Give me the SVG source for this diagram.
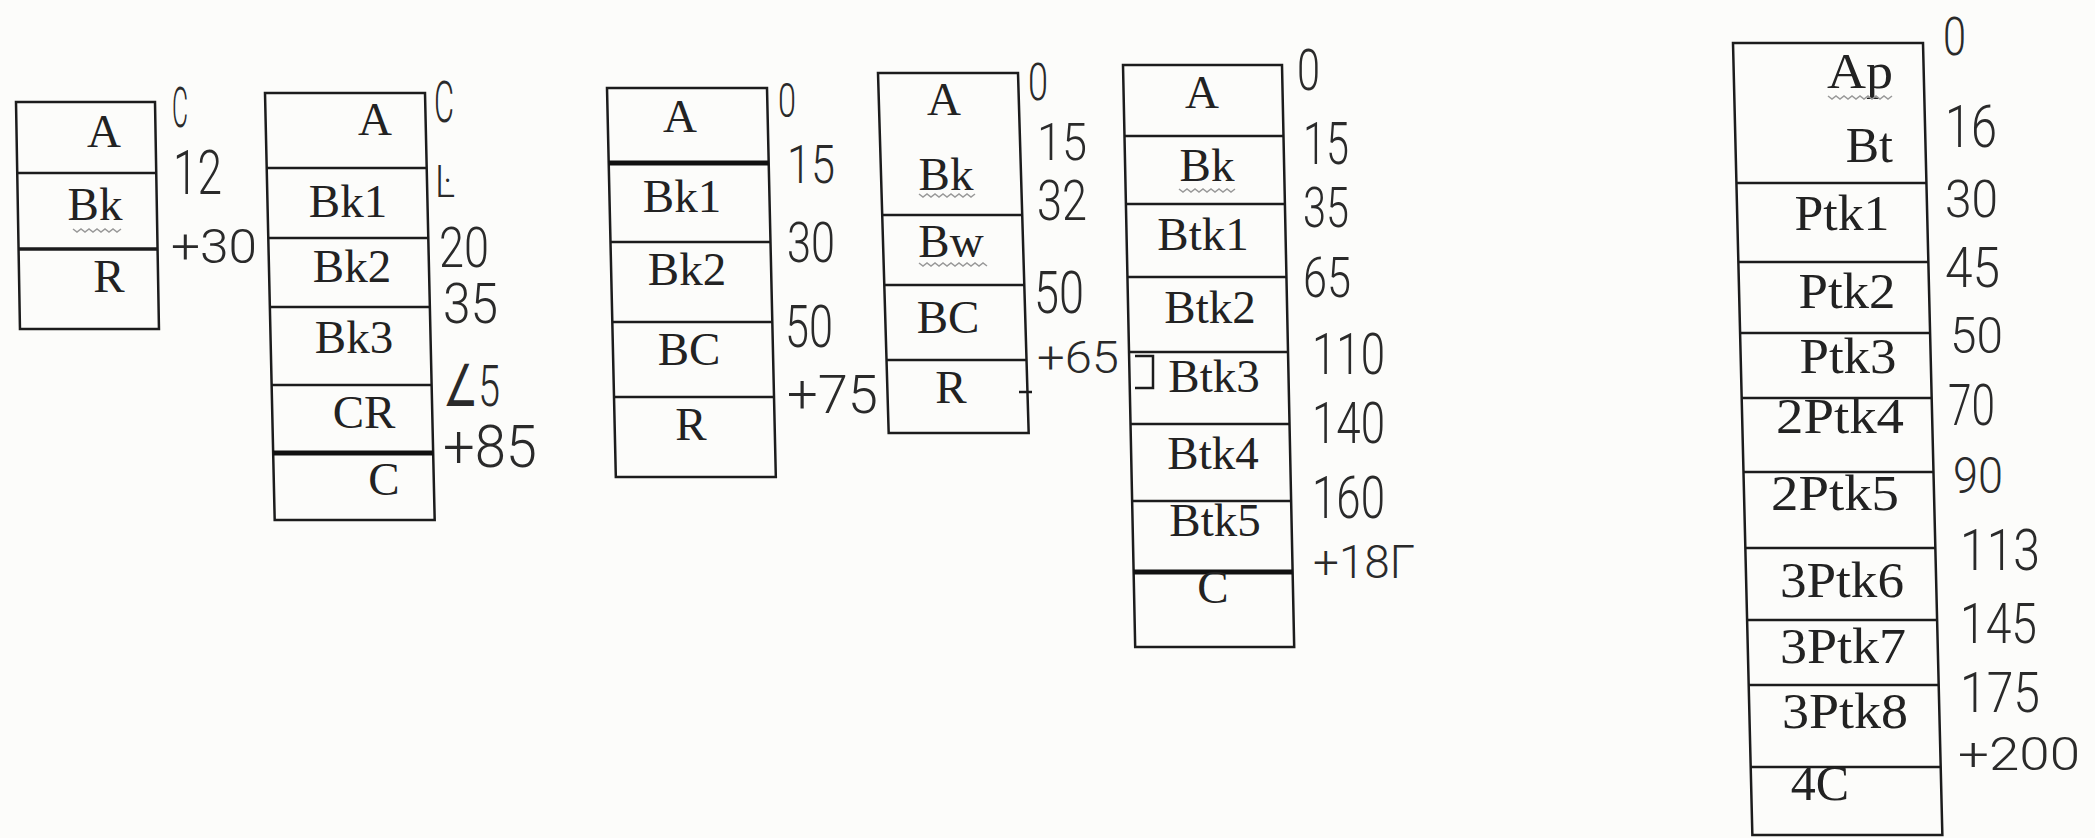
<svg xmlns="http://www.w3.org/2000/svg" width="2095" height="838" viewBox="0 0 2095 838">
<style>
.bg{fill:#fcfcfa}
.box{fill:none;stroke:#1c1c1c;stroke-width:2.5}
.div{stroke:#1c1c1c;stroke-width:2.5}
.thick{stroke:#111;stroke-width:5}
.lbl{font-family:"Liberation Serif",serif;font-size:47px;fill:#222;text-anchor:middle}
.lr{text-anchor:end}
.num{font-family:Roboto,"Liberation Sans",sans-serif;font-weight:300;font-size:52px;fill:#2a2a2a}
.wave{fill:none;stroke:#999;stroke-width:1.5}
</style>
<rect class="bg" width="2095" height="838"/>

<g id="stack1">
  <g transform="translate(16,102) skewX(1.0)">
    <rect class="box" width="139" height="227"/>
    <line class="div" x1="0" y1="71" x2="139" y2="71"/>
    <line class="div" x1="0" y1="147" x2="139" y2="147" style="stroke-width:3.5"/>
  </g>
  <text class="lbl" x="104" y="147">A</text>
  <text class="lbl" x="95" y="220">Bk</text>
  <path class="wave" d="M73,229 l4,3 l4,-3 l4,3 l4,-3 l4,3 l4,-3 l4,3 l4,-3 l4,3 l4,-3 l4,3 l4,-3"/>
  <text class="lbl" x="109" y="292">R</text>
  <text class="num" x="172" y="127" style="font-size:55px" textLength="16" lengthAdjust="spacingAndGlyphs">C</text>
  <text class="num" x="173" y="194" style="font-size:62px" textLength="49" lengthAdjust="spacingAndGlyphs">12</text>
  <text class="num" x="171" y="263" style="font-size:49px" textLength="86" lengthAdjust="spacingAndGlyphs">+30</text>
</g>

<g id="stack2">
  <g transform="translate(265,93) skewX(1.3)">
    <rect class="box" width="160" height="427"/>
    <line class="div" x1="0" y1="75" x2="160" y2="75"/>
    <line class="div" x1="0" y1="145" x2="160" y2="145"/>
    <line class="div" x1="0" y1="214" x2="160" y2="214"/>
    <line class="div" x1="0" y1="292" x2="160" y2="292"/>
    <line class="thick" x1="0" y1="360" x2="160" y2="360"/>
  </g>
  <text class="lbl" x="375" y="135">A</text>
  <text class="lbl" x="348" y="217">Bk1</text>
  <text class="lbl" x="352" y="282">Bk2</text>
  <text class="lbl" x="354" y="353">Bk3</text>
  <text class="lbl" x="364" y="428">CR</text>
  <text class="lbl" x="384" y="495">C</text>
  <text class="num" x="434" y="122" style="font-size:58px" textLength="20" lengthAdjust="spacingAndGlyphs">C</text>
  <text class="num" x="435" y="197" style="font-size:44px" textLength="20" lengthAdjust="spacingAndGlyphs">Ŀ</text>
  <text class="num" x="439" y="267" style="font-size:55px" textLength="50" lengthAdjust="spacingAndGlyphs">20</text>
  <text class="num" x="443" y="323" style="font-size:55px" textLength="55" lengthAdjust="spacingAndGlyphs">35</text>
  <text class="num" x="443" y="406" style="font-size:58px" textLength="57" lengthAdjust="spacingAndGlyphs">∠5</text>
  <text class="num" x="443" y="467" style="font-size:60px" textLength="94" lengthAdjust="spacingAndGlyphs">+85</text>
</g>

<g id="stack3">
  <g transform="translate(607,88) skewX(1.3)">
    <rect class="box" width="160" height="389"/>
    <line class="thick" x1="0" y1="75" x2="160" y2="75"/>
    <line class="div" x1="0" y1="154" x2="160" y2="154"/>
    <line class="div" x1="0" y1="234" x2="160" y2="234"/>
    <line class="div" x1="0" y1="309" x2="160" y2="309"/>
  </g>
  <text class="lbl" x="680" y="132">A</text>
  <text class="lbl" x="682" y="212">Bk1</text>
  <text class="lbl" x="687" y="285">Bk2</text>
  <text class="lbl" x="689" y="365">BC</text>
  <text class="lbl" x="691" y="440">R</text>
  <text class="num" x="778" y="117" style="font-size:48px" textLength="18" lengthAdjust="spacingAndGlyphs">0</text>
  <text class="num" x="787" y="183" style="font-size:53px" textLength="48" lengthAdjust="spacingAndGlyphs">15</text>
  <text class="num" x="787" y="262" style="font-size:56px" textLength="48" lengthAdjust="spacingAndGlyphs">30</text>
  <text class="num" x="785" y="347" style="font-size:60px" textLength="48" lengthAdjust="spacingAndGlyphs">50</text>
  <text class="num" x="787" y="413" style="font-size:53px" textLength="91" lengthAdjust="spacingAndGlyphs">+75</text>
</g>

<g id="stack4">
  <g transform="translate(878,73) skewX(1.7)">
    <rect class="box" width="140" height="360"/>
    <line class="div" x1="0" y1="142" x2="140" y2="142"/>
    <line class="div" x1="0" y1="212" x2="140" y2="212"/>
    <line class="div" x1="0" y1="287" x2="140" y2="287"/>
  </g>
  <line class="div" x1="1019" y1="392" x2="1032" y2="392"/>
  <text class="lbl" x="944" y="115">A</text>
  <text class="lbl" x="946" y="190">Bk</text>
  <path class="wave" d="M919,194 l4,3 l4,-3 l4,3 l4,-3 l4,3 l4,-3 l4,3 l4,-3 l4,3 l4,-3 l4,3 l4,-3 l4,3 l4,-3"/>
  <text class="lbl" x="951" y="257">Bw</text>
  <path class="wave" d="M919,263 l4,3 l4,-3 l4,3 l4,-3 l4,3 l4,-3 l4,3 l4,-3 l4,3 l4,-3 l4,3 l4,-3 l4,3 l4,-3 l4,3 l4,-3 l4,3"/>
  <text class="lbl" x="948" y="333">BC</text>
  <text class="lbl" x="951" y="403">R</text>
  <text class="num" x="1028" y="100" style="font-size:52px" textLength="20" lengthAdjust="spacingAndGlyphs">0</text>
  <text class="num" x="1037" y="160" style="font-size:52px" textLength="50" lengthAdjust="spacingAndGlyphs">15</text>
  <text class="num" x="1037" y="220" style="font-size:56px" textLength="50" lengthAdjust="spacingAndGlyphs">32</text>
  <text class="num" x="1034" y="313" style="font-size:60px" textLength="50" lengthAdjust="spacingAndGlyphs">50</text>
  <text class="num" x="1037" y="373" style="font-size:44px" textLength="82" lengthAdjust="spacingAndGlyphs">+65</text>
</g>

<g id="stack5">
  <g transform="translate(1123,65) skewX(1.2)">
    <rect class="box" width="159" height="582"/>
    <line class="div" x1="0" y1="71" x2="159" y2="71"/>
    <line class="div" x1="0" y1="139" x2="159" y2="139"/>
    <line class="div" x1="0" y1="212" x2="159" y2="212"/>
    <line class="div" x1="0" y1="287" x2="159" y2="287"/>
    <line class="div" x1="0" y1="359" x2="159" y2="359"/>
    <line class="div" x1="0" y1="436" x2="159" y2="436"/>
    <line class="thick" x1="0" y1="507" x2="159" y2="507"/>
  </g>
  <path class="div" fill="none" d="M1135,356 H1153 V388 H1135"/>
  <text class="lbl" x="1202" y="108">A</text>
  <text class="lbl" x="1207" y="181">Bk</text>
  <path class="wave" d="M1179,189 l4,3 l4,-3 l4,3 l4,-3 l4,3 l4,-3 l4,3 l4,-3 l4,3 l4,-3 l4,3 l4,-3 l4,3 l4,-3"/>
  <text class="lbl" x="1203" y="250">Btk1</text>
  <text class="lbl" x="1210" y="323">Btk2</text>
  <text class="lbl" x="1214" y="392">Btk3</text>
  <text class="lbl" x="1213" y="469">Btk4</text>
  <text class="lbl" x="1215" y="536">Btk5</text>
  <text class="lbl" x="1213" y="603">C</text>
  <text class="num" x="1297" y="90" style="font-size:58px" textLength="23" lengthAdjust="spacingAndGlyphs">0</text>
  <text class="num" x="1303" y="164" style="font-size:60px" textLength="46" lengthAdjust="spacingAndGlyphs">15</text>
  <text class="num" x="1303" y="227" style="font-size:56px" textLength="46" lengthAdjust="spacingAndGlyphs">35</text>
  <text class="num" x="1303" y="297" style="font-size:55px" textLength="48" lengthAdjust="spacingAndGlyphs">65</text>
  <text class="num" x="1312" y="374" style="font-size:57px" textLength="73" lengthAdjust="spacingAndGlyphs">110</text>
  <text class="num" x="1312" y="443" style="font-size:57px" textLength="73" lengthAdjust="spacingAndGlyphs">140</text>
  <text class="num" x="1312" y="518" style="font-size:59px" textLength="73" lengthAdjust="spacingAndGlyphs">160</text>
  <text class="num" x="1313" y="578" style="font-size:47px" textLength="102" lengthAdjust="spacingAndGlyphs">+18Γ</text>
</g>

<g id="stack6">
  <g transform="translate(1733,43) skewX(1.4)">
    <rect class="box" width="190" height="792"/>
    <line class="div" x1="0" y1="140" x2="190" y2="140"/>
    <line class="div" x1="0" y1="219" x2="190" y2="219"/>
    <line class="div" x1="0" y1="290" x2="190" y2="290"/>
    <line class="div" x1="0" y1="355" x2="190" y2="355"/>
    <line class="div" x1="0" y1="429" x2="190" y2="429"/>
    <line class="div" x1="0" y1="505" x2="190" y2="505"/>
    <line class="div" x1="0" y1="577" x2="190" y2="577"/>
    <line class="div" x1="0" y1="642" x2="190" y2="642"/>
    <line class="div" x1="0" y1="724" x2="190" y2="724"/>
  </g>
  <text class="lbl lr" x="1893" y="88" style="font-size:50px" textLength="66" lengthAdjust="spacingAndGlyphs">Ap</text>
  <path class="wave" d="M1828,96 l4,3 l4,-3 l4,3 l4,-3 l4,3 l4,-3 l4,3 l4,-3 l4,3 l4,-3 l4,3 l4,-3 l4,3 l4,-3 l4,3 l4,-3"/>
  <text class="lbl lr" x="1893" y="162" style="font-size:50px">Bt</text>
  <text class="lbl" x="1842" y="230" style="font-size:50px" textLength="95" lengthAdjust="spacingAndGlyphs">Ptk1</text>
  <text class="lbl" x="1847" y="308" style="font-size:50px" textLength="97" lengthAdjust="spacingAndGlyphs">Ptk2</text>
  <text class="lbl" x="1848" y="373" style="font-size:50px" textLength="97" lengthAdjust="spacingAndGlyphs">Ptk3</text>
  <text class="lbl" x="1840" y="433" style="font-size:50px" textLength="128" lengthAdjust="spacingAndGlyphs">2Ptk4</text>
  <text class="lbl" x="1835" y="510" style="font-size:50px" textLength="128" lengthAdjust="spacingAndGlyphs">2Ptk5</text>
  <text class="lbl" x="1842" y="597" style="font-size:50px" textLength="124" lengthAdjust="spacingAndGlyphs">3Ptk6</text>
  <text class="lbl" x="1843" y="663" style="font-size:50px" textLength="126" lengthAdjust="spacingAndGlyphs">3Ptk7</text>
  <text class="lbl" x="1845" y="728" style="font-size:50px" textLength="126" lengthAdjust="spacingAndGlyphs">3Ptk8</text>
  <text class="lbl" x="1820" y="800" style="font-size:50px">4C</text>
  <text class="num" x="1943" y="55" style="font-size:53px" textLength="23" lengthAdjust="spacingAndGlyphs">0</text>
  <text class="num" x="1945" y="147" style="font-size:60px" textLength="52" lengthAdjust="spacingAndGlyphs">16</text>
  <text class="num" x="1945" y="217" style="font-size:52px" textLength="53" lengthAdjust="spacingAndGlyphs">30</text>
  <text class="num" x="1945" y="287" style="font-size:56px" textLength="55" lengthAdjust="spacingAndGlyphs">45</text>
  <text class="num" x="1950" y="353" style="font-size:50px" textLength="53" lengthAdjust="spacingAndGlyphs">50</text>
  <text class="num" x="1948" y="425" style="font-size:58px" textLength="47" lengthAdjust="spacingAndGlyphs">70</text>
  <text class="num" x="1953" y="493" style="font-size:50px" textLength="50" lengthAdjust="spacingAndGlyphs">90</text>
  <text class="num" x="1960" y="570" style="font-size:58px" textLength="80" lengthAdjust="spacingAndGlyphs">113</text>
  <text class="num" x="1960" y="643" style="font-size:55px" textLength="77" lengthAdjust="spacingAndGlyphs">145</text>
  <text class="num" x="1960" y="712" style="font-size:55px" textLength="80" lengthAdjust="spacingAndGlyphs">175</text>
  <text class="num" x="1958" y="770" style="font-size:46px" textLength="122" lengthAdjust="spacingAndGlyphs">+200</text>
</g>
</svg>
